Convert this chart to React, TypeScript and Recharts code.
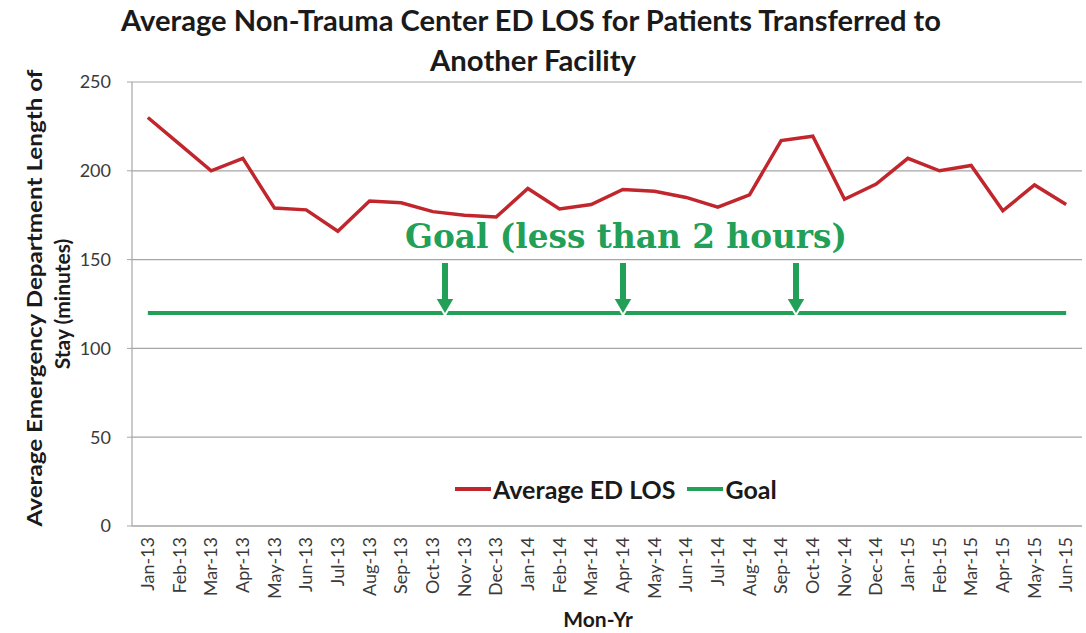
import React from 'react';
import { LineChart, Line, XAxis, YAxis, CartesianGrid, Legend } from 'recharts';

const months = [
  'Jan-13', 'Feb-13', 'Mar-13', 'Apr-13', 'May-13', 'Jun-13', 'Jul-13', 'Aug-13', 'Sep-13', 'Oct-13',
  'Nov-13', 'Dec-13', 'Jan-14', 'Feb-14', 'Mar-14', 'Apr-14', 'May-14', 'Jun-14', 'Jul-14', 'Aug-14',
  'Sep-14', 'Oct-14', 'Nov-14', 'Dec-14', 'Jan-15', 'Feb-15', 'Mar-15', 'Apr-15', 'May-15', 'Jun-15',
];
const avgLos = [
  230, 215, 200, 207, 179, 178, 166, 183, 182, 177,
  175, 174, 190, 178.5, 181, 189.5, 188.5, 185, 179.5, 186.5,
  217, 219.5, 184, 192.5, 207, 200, 203, 177.5, 192, 181,
];
const goal = [
  120, 120, 120, 120, 120, 120, 120, 120, 120, 120,
  120, 120, 120, 120, 120, 120, 120, 120, 120, 120,
  120, 120, 120, 120, 120, 120, 120, 120, 120, 120,
];
const yTicks = [0, 50, 100, 150, 200, 250];
// boundaries between months, where Excel puts its tick marks
const boundaryTicks = Array.from({ length: months.length + 1 }, (_, i) => i);

const data = months.map((m, i) => ({ month: m, los: avgLos[i], goal: goal[i] }));

const RED = '#C0262C';
const GREEN = '#22A058';
const GRID = '#A6A6A6';
const FONT = 'Lato, "Open Sans", sans-serif';

const MonthTick = (props: any) => {
  const { x, y, payload } = props;
  return (
    <text
      x={0}
      y={0}
      transform={`translate(${x},${y + 5}) rotate(-90)`}
      textAnchor="end"
      dy="0.35em"
      fontSize={18}
      fontFamily={FONT}
      fill="#3a3a3a"
    >
      {payload.value}
    </text>
  );
};

const LegendContent = (props: any) => {
  const items = props.payload || [];
  return (
    <div style={{ display: 'flex', alignItems: 'center', fontFamily: FONT, fontWeight: 700, fontSize: 25, color: '#1a1a1a' }}>
      {items.map((it: any) => (
        <div key={it.value} style={{ display: 'flex', alignItems: 'center', marginRight: 12 }}>
          <svg width={36} height={10} style={{ marginRight: 2 }}>
            <line x1={0} y1={5} x2={36} y2={5} stroke={it.color} strokeWidth={4} />
          </svg>
          <span>{it.value}</span>
        </div>
      ))}
    </div>
  );
};

const arrowXs = [445, 623, 796];

export default function App() {
  return (
    <div style={{ position: 'absolute', left: 0, top: 0, width: 1086, height: 633, background: '#fff' }}>
      <LineChart width={1086} height={633} data={data} margin={{ top: 82, right: 4, left: 0, bottom: 26 }}>
        <CartesianGrid xAxisId="b" vertical={false} stroke={GRID} strokeWidth={1.2} />
        <XAxis
          xAxisId="b"
          dataKey="month"
          scale="band"
          interval={0}
          height={75}
          axisLine={false}
          tickLine={false}
          tickSize={0}
          tickMargin={0}
          tick={<MonthTick />}
        />
        <XAxis
          xAxisId="a"
          type="number"
          domain={[0, months.length]}
          ticks={boundaryTicks}
          interval={0}
          allowDataOverflow
          height={6}
          tick={false}
          tickSize={6}
          tickLine={{ stroke: GRID }}
          axisLine={{ stroke: GRID, strokeWidth: 1.2 }}
        />
        <YAxis
          width={132}
          domain={[0, 250]}
          ticks={yTicks}
          interval={0}
          tickSize={5}
          tickMargin={16}
          tickLine={{ stroke: GRID }}
          axisLine={{ stroke: GRID, strokeWidth: 1.2 }}
          tick={{ fontSize: 18, fontFamily: FONT, fill: '#3a3a3a' }}
        />
        <Legend
          layout="horizontal"
          verticalAlign="middle"
          align="center"
          content={<LegendContent />}
          wrapperStyle={{ position: 'absolute', top: 474, left: 455, width: 'auto' }}
        />
        <Line
          xAxisId="b"
          type="linear"
          dataKey="los"
          name="Average ED LOS"
          stroke={RED}
          strokeWidth={3.5}
          dot={false}
          isAnimationActive={false}
        />
        <Line
          xAxisId="b"
          type="linear"
          dataKey="goal"
          name="Goal"
          stroke={GREEN}
          strokeWidth={4}
          dot={false}
          isAnimationActive={false}
        />
      </LineChart>
      <svg
        width={1086}
        height={633}
        style={{ position: 'absolute', left: 0, top: 0, pointerEvents: 'none' }}
      >
        <text x={531} y={31} textAnchor="middle" fontFamily={FONT} fontWeight={700} fontSize={28} fill="#1a1a1a" textLength={820} lengthAdjust="spacingAndGlyphs">
          Average Non-Trauma Center ED LOS for Patients Transferred to
        </text>
        <text x={533} y={71} textAnchor="middle" fontFamily={FONT} fontWeight={700} fontSize={28} fill="#1a1a1a" textLength={206} lengthAdjust="spacingAndGlyphs">
          Another Facility
        </text>
        <g fontFamily={FONT} fontWeight={700} fontSize={21} fill="#1a1a1a" textAnchor="middle">
          <text transform="translate(42,298) rotate(-90)" textLength={457} lengthAdjust="spacingAndGlyphs">
            Average Emergency Department Length of
          </text>
          <text transform="translate(70,304) rotate(-90)">Stay (minutes)</text>
        </g>
        <text x={598} y={627} textAnchor="middle" fontFamily={FONT} fontWeight={700} fontSize={21} fill="#1a1a1a">
          Mon-Yr
        </text>
        <text
          x={405}
          y={248}
          fontFamily='"DejaVu Serif", "Liberation Serif", serif'
          fontWeight={700}
          fontSize={34}
          fill={GREEN}
          textLength={442}
          lengthAdjust="spacingAndGlyphs"
        >
          Goal (less than 2 hours)
        </text>
        {arrowXs.map((cx) => (
          <path
            key={cx}
            d={`M${cx - 4},262 L${cx + 4},262 L${cx + 4},298 L${cx + 10},298 L${cx},315 L${cx - 10},298 L${cx - 4},298 Z`}
            fill={GREEN}
            stroke="#fff"
            strokeWidth={2}
            strokeLinejoin="miter"
          />
        ))}
      </svg>
    </div>
  );
}
